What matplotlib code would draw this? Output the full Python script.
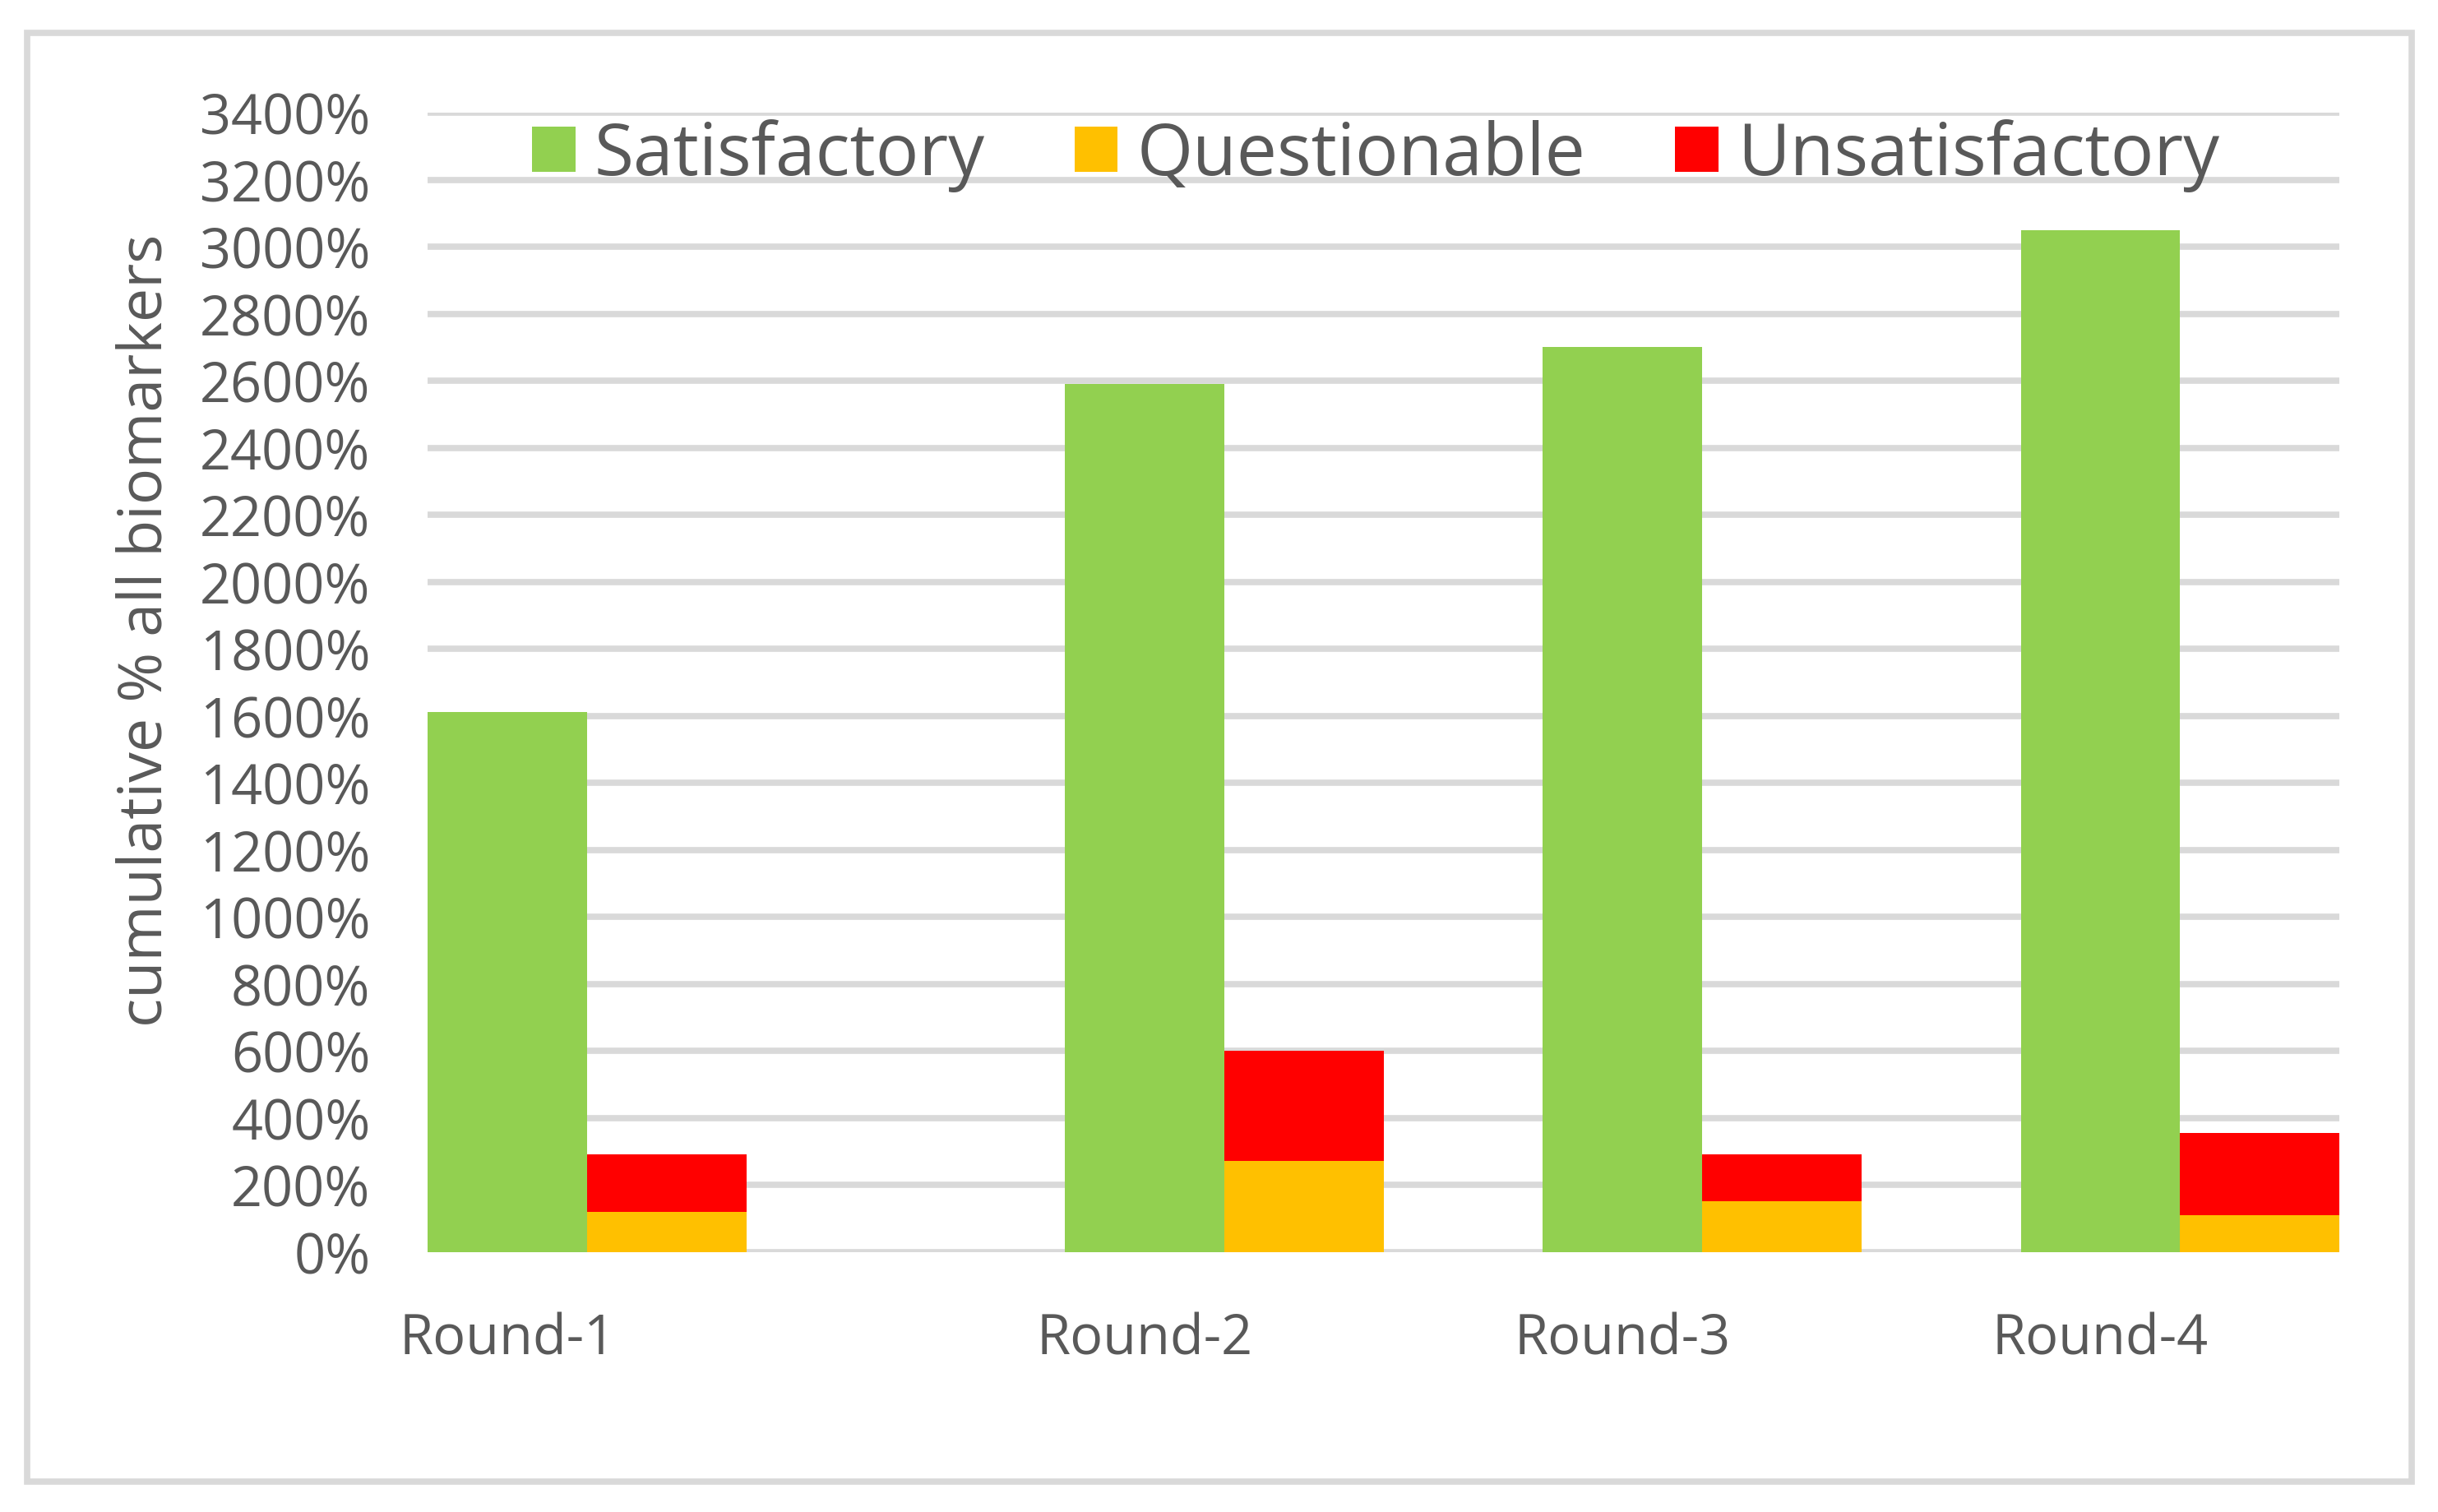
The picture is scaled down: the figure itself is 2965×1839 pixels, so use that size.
import matplotlib
matplotlib.use("Agg")
import matplotlib.pyplot as plt
import numpy as np
from matplotlib.patches import Rectangle

plt.rcParams['font.family'] = ['Open Sans', 'DejaVu Sans']

rounds = ['Round-1', 'Round-2', 'Round-3', 'Round-4']
satisfactory = [1610, 2590, 2700, 3050]
questionable = [120, 270, 150, 110]
unsatisfactory = [170, 330, 140, 245]
series_names = ['Satisfactory', 'Questionable', 'Unsatisfactory']
yticks = list(range(0, 3401, 200))

# layout: left edge of each round's group, in bar widths
slot = np.array([0, 4, 7, 10])

GREEN = '#92d050'
ORANGE = '#ffc000'
RED = '#ff0000'
GRID = '#d9d9d9'
TXT = '#595959'

fig = plt.figure(figsize=(29.65, 18.4), dpi=100)
ax = fig.add_axes([520/2965, 1 - 1523.5/1840, (2845-520)/2965, (1523.5-138)/1840])

ax.bar(slot + 0.5, satisfactory, width=1.0, color=GREEN, label=series_names[0], zorder=3)
ax.bar(slot + 1.5, questionable, width=1.0, color=ORANGE, label=series_names[1], zorder=3)
ax.bar(slot + 1.5, unsatisfactory, width=1.0, bottom=questionable, color=RED,
       label=series_names[2], zorder=3)

ax.set_xlim(0, 12)
ax.set_ylim(0, 3400)
ax.set_yticks(yticks)
ax.set_yticklabels([f'{v}%' for v in yticks])
ax.set_xticks(slot + 0.5)
ax.set_xticklabels(rounds)
ax.tick_params(axis='y', length=0, pad=50, labelsize=48, labelcolor=TXT)
ax.tick_params(axis='x', length=0, pad=52, labelsize=48, labelcolor=TXT)
for s in ax.spines.values():
    s.set_visible(False)
ax.yaxis.grid(True, color=GRID, linewidth=5.5, zorder=0)
ax.set_axisbelow(True)

fig.text(178/2965, 1 - 767/1840, 'cumulative % all biomarkers', rotation=90,
         ha='center', va='center', fontsize=53, color=TXT)

leg = fig.legend(loc='center', bbox_to_anchor=(1673/2965, 1 - 190/1840), ncol=3,
                 frameon=False, fontsize=63, handlelength=0.6, handleheight=0.6,
                 handletextpad=0.26, columnspacing=1.25)
for t in leg.get_texts():
    t.set_color(TXT)

fig.patches.append(Rectangle((33/2965, 1 - 1803/1840), 2900/2965, 1762/1840,
                             transform=fig.transFigure, fill=False,
                             edgecolor=GRID, linewidth=5.5))

fig.savefig('out.png', dpi=100, facecolor='white')
